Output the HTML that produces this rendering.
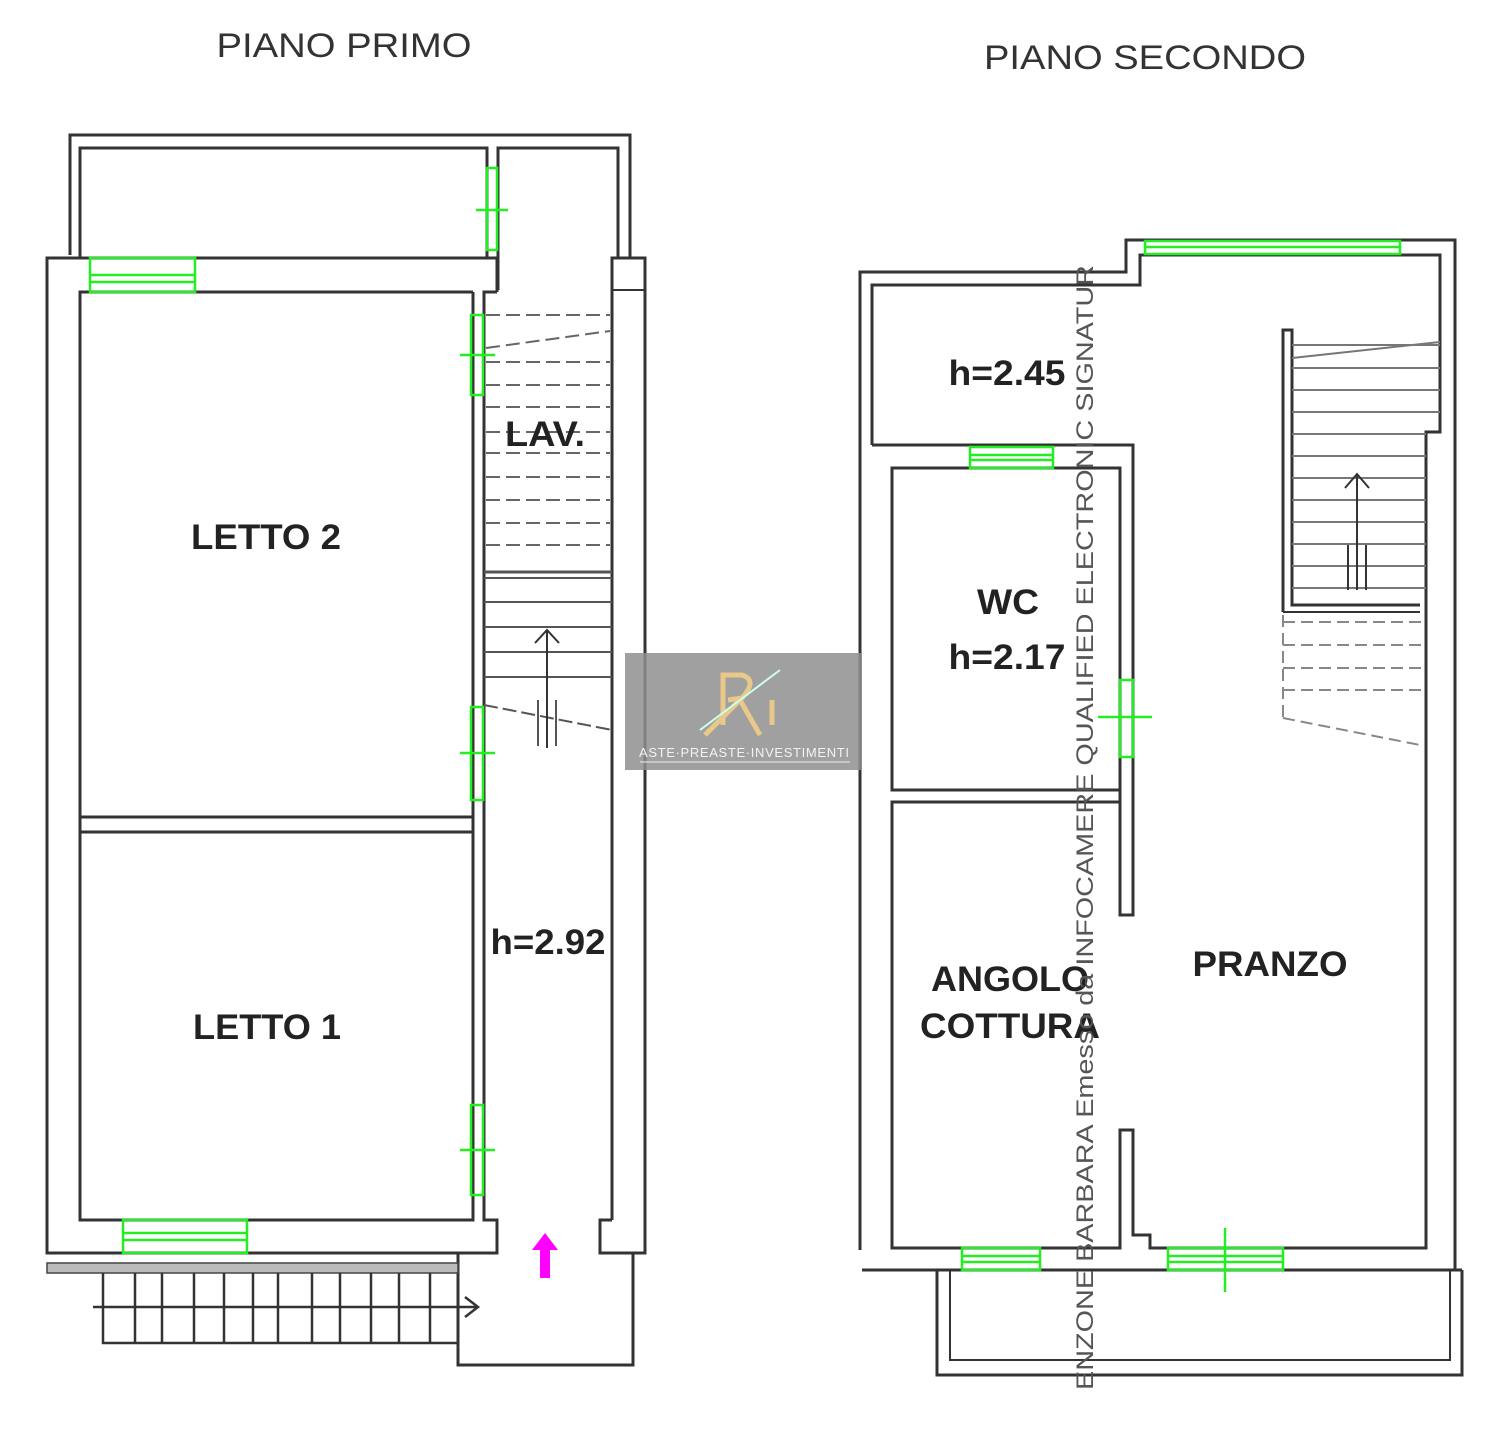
<!DOCTYPE html>
<html><head><meta charset="utf-8"><style>
html,body{margin:0;padding:0;background:#fff;width:1500px;height:1430px;overflow:hidden}
svg{display:block}
text{font-family:"Liberation Sans",sans-serif}
</style></head><body>
<svg width="1500" height="1430" viewBox="0 0 1500 1430" xmlns="http://www.w3.org/2000/svg">
<g fill="none" stroke="#333" stroke-width="3" stroke-linejoin="miter">
<polyline points="70,255 70,135 630,135 630,258"/>
<polyline points="80,258 80,148 487,148 487,258"/>
<polyline points="498,290 498,148 618,148 618,258"/>
<polyline points="497,292 497,258 47,258 47,1253 497,1253 497,1220 484,1220 484,292 497,292"/>
<polyline points="473,292 80,292 80,1220 473,1220 473,292"/>
<line x1="80" y1="817" x2="473" y2="817"/>
<line x1="80" y1="832" x2="473" y2="832"/>
<polyline points="612,1220 612,258 645,258 645,1253 600,1253 600,1220 612,1220"/>
<line x1="612" y1="290" x2="645" y2="290" stroke-width="2"/>
<polyline points="458,1253 458,1365 633,1365 633,1253"/>
</g>
<rect x="47" y="1263" width="411" height="10" fill="#bbb" stroke="#444" stroke-width="1.5"/>
<g stroke="#333" stroke-width="2.5" fill="none">
<polyline points="103,1273 103,1343 458,1343"/>
<line x1="135" y1="1273" x2="135" y2="1343"/><line x1="162" y1="1273" x2="162" y2="1343"/>
<line x1="194" y1="1273" x2="194" y2="1343"/><line x1="224" y1="1273" x2="224" y2="1343"/>
<line x1="253" y1="1273" x2="253" y2="1343"/><line x1="278" y1="1273" x2="278" y2="1343"/>
<line x1="312" y1="1273" x2="312" y2="1343"/><line x1="340" y1="1273" x2="340" y2="1343"/>
<line x1="371" y1="1273" x2="371" y2="1343"/><line x1="399" y1="1273" x2="399" y2="1343"/>
<line x1="430" y1="1273" x2="430" y2="1343"/>
<line x1="93" y1="1307" x2="478" y2="1307"/>
<polyline points="465,1297 478,1307 465,1317"/>
</g>
<g stroke="#666" stroke-width="2" stroke-dasharray="14,6" fill="none">
<line x1="486" y1="315" x2="610" y2="315"/>
<line x1="486" y1="348" x2="610" y2="331"/>
<line x1="486" y1="362" x2="610" y2="362"/><line x1="486" y1="385" x2="610" y2="385"/>
<line x1="486" y1="407" x2="610" y2="407"/><line x1="486" y1="432" x2="610" y2="432"/>
<line x1="486" y1="453" x2="610" y2="453"/><line x1="486" y1="477" x2="610" y2="477"/>
<line x1="486" y1="500" x2="610" y2="500"/><line x1="486" y1="523" x2="610" y2="523"/>
<line x1="486" y1="545" x2="610" y2="545"/>
</g>
<g stroke="#555" stroke-width="2" fill="none">
<line x1="484" y1="572" x2="612" y2="572" stroke-width="3"/>
<line x1="484" y1="578" x2="612" y2="578"/>
<line x1="484" y1="602" x2="612" y2="602"/><line x1="484" y1="627" x2="612" y2="627"/>
<line x1="484" y1="652" x2="612" y2="652"/><line x1="484" y1="677" x2="612" y2="677"/>
<line x1="484" y1="705" x2="612" y2="730" stroke-dasharray="14,5"/>
<line x1="547" y1="748" x2="547" y2="630" stroke="#333"/>
<polyline points="535,643 547,630 559,643" stroke="#333"/>
<line x1="538" y1="700" x2="538" y2="746"/><line x1="556" y1="700" x2="556" y2="746"/>
</g>
<g stroke="#2e2" stroke-width="2.5" fill="none">
<rect x="90" y="258" width="105" height="34"/>
<line x1="90" y1="275" x2="195" y2="275"/><line x1="90" y1="282" x2="195" y2="282"/>
<rect x="123" y="1220" width="124" height="33"/>
<line x1="123" y1="1233" x2="247" y2="1233"/><line x1="123" y1="1240" x2="247" y2="1240"/>
<rect x="487" y="168" width="10" height="82"/><line x1="476" y1="210" x2="508" y2="210"/>
<rect x="471" y="315" width="12" height="80"/><line x1="460" y1="355" x2="495" y2="355"/>
<rect x="471" y="707" width="12" height="93"/><line x1="460" y1="753" x2="495" y2="753"/>
<rect x="471" y="1105" width="12" height="90"/><line x1="460" y1="1150" x2="495" y2="1150"/>
</g>
<polygon points="545,1233 558,1250 550,1250 550,1278 540,1278 540,1250 532,1250" fill="#f0f"/>

<g fill="none" stroke="#333" stroke-width="3">
<polyline points="860,1250 860,272 1126,272 1126,240 1455,240 1455,1270"/>
<polyline points="872,445 872,285 1140,285 1140,255 1440,255 1440,432 1426,432 1426,1248 1150,1248 1150,1235 1140,1235 1133,1235 1133,1130 1120,1130 1120,1248 892,1248 892,802 1120,802"/>
<polyline points="872,445 1133,445 1133,915 1120,915 1120,468 892,468 892,790 1120,790"/>
<line x1="862" y1="1270" x2="1462" y2="1270"/>
<polyline points="937,1270 937,1375 1462,1375 1462,1270"/>
<polyline points="950,1270 950,1360 1450,1360 1450,1270" stroke-width="2"/>
<polyline points="1283,612 1283,330 1292,330 1292,605 1420,605"/>
<line x1="1283" y1="612" x2="1420" y2="612" stroke-width="2"/>
</g>
<g stroke="#777" stroke-width="2" fill="none">
<line x1="1292" y1="345" x2="1440" y2="345"/>
<line x1="1292" y1="358" x2="1440" y2="342"/>
<line x1="1292" y1="368" x2="1440" y2="368"/><line x1="1292" y1="390" x2="1440" y2="390"/>
<line x1="1292" y1="412" x2="1440" y2="412"/><line x1="1292" y1="434" x2="1426" y2="434"/>
<line x1="1292" y1="456" x2="1426" y2="456"/><line x1="1292" y1="478" x2="1426" y2="478"/>
<line x1="1292" y1="500" x2="1426" y2="500"/><line x1="1292" y1="522" x2="1426" y2="522"/>
<line x1="1292" y1="544" x2="1426" y2="544"/><line x1="1292" y1="566" x2="1426" y2="566"/>
<line x1="1292" y1="588" x2="1426" y2="588"/>
</g>
<g stroke="#333" stroke-width="2" fill="none">
<line x1="1357" y1="590" x2="1357" y2="474"/>
<polyline points="1345,488 1357,474 1369,488"/>
<line x1="1348" y1="545" x2="1348" y2="590"/><line x1="1366" y1="545" x2="1366" y2="590"/>
</g>
<g stroke="#888" stroke-width="2" stroke-dasharray="12,6" fill="none">
<line x1="1283" y1="622" x2="1426" y2="622"/><line x1="1283" y1="645" x2="1426" y2="645"/>
<line x1="1283" y1="668" x2="1426" y2="668"/><line x1="1283" y1="690" x2="1426" y2="690"/>
<line x1="1283" y1="615" x2="1283" y2="718"/>
<line x1="1283" y1="718" x2="1420" y2="745"/>
</g>
<g stroke="#2e2" stroke-width="2.5" fill="none">
<rect x="1145" y="241" width="255" height="13"/><line x1="1145" y1="247" x2="1400" y2="247"/>
<rect x="970" y="447" width="83" height="21"/><line x1="970" y1="455" x2="1053" y2="455"/><line x1="970" y1="460" x2="1053" y2="460"/>
<rect x="1120" y="680" width="13" height="77"/><line x1="1098" y1="717" x2="1152" y2="717"/>
<rect x="962" y="1248" width="78" height="22"/><line x1="962" y1="1256" x2="1040" y2="1256"/><line x1="962" y1="1262" x2="1040" y2="1262"/>
<rect x="1168" y="1248" width="115" height="22"/><line x1="1168" y1="1256" x2="1283" y2="1256"/><line x1="1168" y1="1262" x2="1283" y2="1262"/>
<line x1="1225" y1="1228" x2="1225" y2="1292"/>
</g>

<g fill="#333" font-size="34" text-anchor="middle">
<text x="344" y="57" textLength="255" lengthAdjust="spacingAndGlyphs">PIANO PRIMO</text>
<text x="1145" y="69" textLength="322" lengthAdjust="spacingAndGlyphs">PIANO SECONDO</text>
</g>
<g fill="#222" font-size="35" text-anchor="middle" font-weight="bold">
<text x="266" y="549" textLength="150" lengthAdjust="spacingAndGlyphs">LETTO 2</text>
<text x="267" y="1039" textLength="148" lengthAdjust="spacingAndGlyphs">LETTO 1</text>
<text x="545" y="446" textLength="80" lengthAdjust="spacingAndGlyphs">LAV.</text>
<text x="548" y="954" textLength="115" lengthAdjust="spacingAndGlyphs">h=2.92</text>
<text x="1007" y="385" textLength="117" lengthAdjust="spacingAndGlyphs">h=2.45</text>
<text x="1008" y="614" textLength="62" lengthAdjust="spacingAndGlyphs">WC</text>
<text x="1007" y="669" textLength="117" lengthAdjust="spacingAndGlyphs">h=2.17</text>
<text x="1010" y="991" textLength="158" lengthAdjust="spacingAndGlyphs">ANGOLO</text>
<text x="1010" y="1038" textLength="180" lengthAdjust="spacingAndGlyphs">COTTURA</text>
<text x="1270" y="976" textLength="155" lengthAdjust="spacingAndGlyphs">PRANZO</text>
</g>
<text transform="translate(1093,1390) rotate(-90)" font-size="24" fill="#555" textLength="1125" lengthAdjust="spacingAndGlyphs">ENZONE BARBARA Emesso da INFOCAMERE QUALIFIED ELECTRONIC SIGNATUR</text>

<rect x="625" y="653" width="237" height="117" fill="#8f8f8f" opacity="0.85"/>
<g fill="none" stroke="#e8c98a" stroke-width="5">
<path d="M723,725 L723,675 L742,675 Q758,680 742,698 L728,700"/>
<path d="M705,735 L740,700 L760,735"/>
<line x1="772" y1="700" x2="772" y2="725"/>
</g>
<path d="M700,730 Q740,700 780,670" stroke="#cfe" stroke-width="2" fill="none"/>
<text x="744" y="757" text-anchor="middle" font-family="Liberation Serif,serif" font-size="13" fill="#f2f2f2" textLength="210">ASTE·PREASTE·INVESTIMENTI</text>
<line x1="640" y1="762" x2="850" y2="762" stroke="#eee" stroke-width="1"/>
</svg>
</body></html>
